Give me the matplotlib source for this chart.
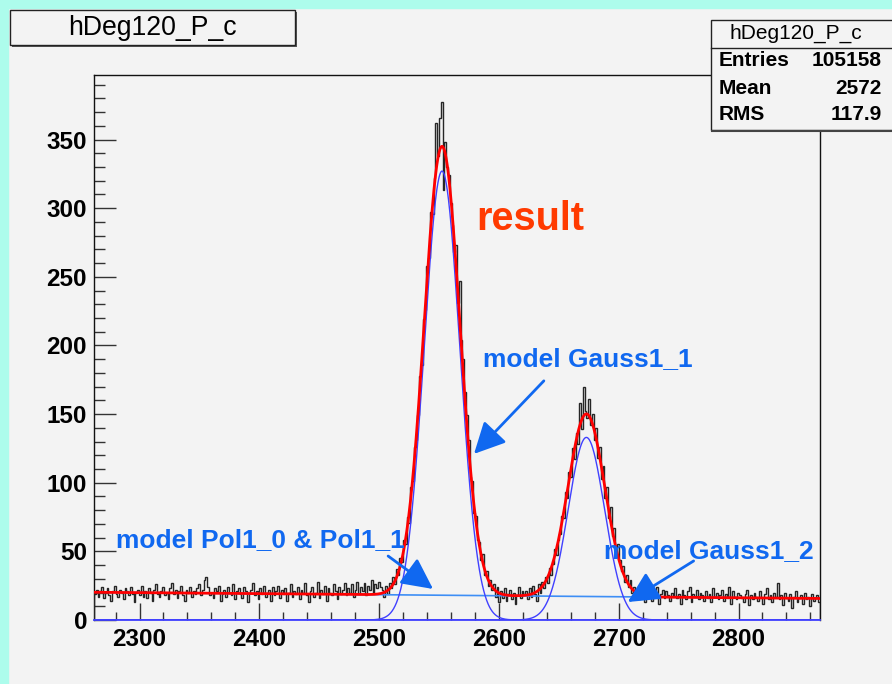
import numpy as np
import matplotlib
matplotlib.use("Agg")
import matplotlib.pyplot as plt
from matplotlib.patches import Rectangle
from matplotlib.ticker import MultipleLocator

# ---------------- data ----------------
x_min, x_max = 2262.0, 2868.0
bin_width = 1.5
counts = [
    19, 22, 17, 21, 24, 16, 20, 23, 18, 14, 21, 25, 19, 17, 22, 20, 15, 23, 21, 18,
    24, 19, 13, 20, 22, 18, 25, 17, 21, 16, 23, 20, 14, 22, 26, 19, 17, 21, 24, 18,
    20, 15, 23, 27, 19, 22, 16, 21, 25, 18, 14, 22, 20, 24, 17, 21, 19, 23, 26, 18,
    22, 29, 31, 24, 18, 20, 16, 23, 21, 25, 14, 19, 22, 17, 24, 20, 18, 26, 15, 21,
    23, 19, 16, 24, 21, 13, 20, 22, 27, 18, 21, 15, 23, 19, 25, 17, 20, 22, 14, 24,
    18, 21, 25, 16, 22, 19, 23, 14, 20, 26, 17, 21, 19, 24, 15, 22, 20, 27, 18, 13,
    21, 24, 17, 20, 28, 16, 22, 19, 25, 14, 23, 20, 18, 26, 21, 15, 24, 19, 22, 27,
    18, 23, 20, 26, 17, 22, 28, 19, 24, 21, 27, 18, 25, 22, 29, 20, 26, 23, 28, 24,
    22, 17, 25, 19, 27, 23, 31, 26, 37, 33, 45, 42, 58, 55, 75, 71, 97, 101, 126, 131,
    149, 178, 186, 219, 226, 258, 264, 297, 296, 322, 362, 338, 366, 377, 313, 348, 330, 324, 304, 288,
    268, 273, 231, 247, 204, 190, 166, 149, 131, 104, 101, 78, 76, 58, 57, 44, 48, 33, 36, 25,
    29, 22, 26, 17, 24, 13, 21, 16, 23, 14, 19, 22, 15, 20, 12, 18, 24, 16, 21, 19,
    21, 15, 23, 17, 25, 19, 14, 26, 20, 28, 23, 31, 27, 38, 33, 41, 52, 47, 58, 63,
    76, 74, 93, 89, 108, 104, 125, 117, 136, 128, 158, 139, 170, 152, 147, 161, 142, 150, 131, 140,
    118, 126, 103, 112, 89, 97, 74, 82, 61, 67, 48, 55, 44, 36, 39, 28, 33, 24, 29, 20,
    24, 17, 22, 15, 25, 19, 13, 21, 18, 23, 14, 20, 17, 24, 12, 19, 22, 16, 21, 18,
    14, 20, 17, 23, 16, 19, 12, 22, 18, 15, 21, 24, 13, 19, 17, 22, 15, 20, 18, 14,
    21, 16, 19, 13, 23, 17, 20, 15, 18, 22, 14, 19, 16, 24, 12, 21, 17, 15, 20, 18,
    16, 13, 19, 22, 11, 18, 15, 20, 17, 14, 21, 16, 12, 19, 23, 15, 18, 13, 20, 17,
    27, 15, 18, 11, 20, 16, 14, 19, 9, 17, 21, 13, 16, 18, 12, 20, 15, 17, 10, 19, 14, 16, 18, 13,
]

# fit model parameters (pol1 background + two gaussians)
pol1_p0, pol1_slope = 20.2, -0.00744      # value at x_min, slope per unit
g1_amp, g1_mean, g1_sigma = 327.0, 2552.5, 14.9
g2_amp, g2_mean, g2_sigma = 133.0, 2673.0, 15.2

hist_name = "hDeg120_P_c"
stats_rows = [("Entries", "105158"), ("Mean", "2572"), ("RMS", "117.9")]
x_ticks = [2300, 2400, 2500, 2600, 2700, 2800]
y_ticks = [0, 50, 100, 150, 200, 250, 300, 350]

# ---------------- figure ----------------
W, H = 892, 684
bg = "#f3f3f3"
fig = plt.figure(figsize=(W / 100, H / 100), dpi=100)
fig.patch.set_facecolor(bg)
cyan = "#adfcec"
fig.patches.append(Rectangle((0, 0), 8 / W, 1, transform=fig.transFigure, color=cyan, zorder=-5))
fig.patches.append(Rectangle((0, 1 - 8 / H), 1, 8 / H, transform=fig.transFigure, color=cyan, zorder=-5))

L, R, T, B = 94, 820, 75, 620
ax = fig.add_axes([L / W, 1 - B / H, (R - L) / W, (B - T) / H])
ax.set_facecolor(bg)

edges = x_min + bin_width * np.arange(len(counts) + 1)
ax.stairs(counts, edges, color="#262626", lw=1.0, zorder=3)

xs = np.linspace(x_min, x_max, 2000)
bkg = pol1_p0 + pol1_slope * (xs - x_min)
g1 = g1_amp * np.exp(-0.5 * ((xs - g1_mean) / g1_sigma) ** 2)
g2 = g2_amp * np.exp(-0.5 * ((xs - g2_mean) / g2_sigma) ** 2)

ax.plot(xs, bkg, color="#3d8ef5", lw=1.2, zorder=4)
ax.plot(xs, g1, color="#4040ff", lw=1.0, zorder=4)
ax.plot(xs, g2, color="#4040ff", lw=1.0, zorder=4)
ax.plot(xs, bkg + g1 + g2, color="#ff0000", lw=2.0, zorder=5)

ax.set_xlim(x_min, x_max)
ax.set_ylim(0, 397)

ax.set_xticks(x_ticks)
ax.set_yticks(y_ticks)
ax.xaxis.set_minor_locator(MultipleLocator(20))
ax.yaxis.set_minor_locator(MultipleLocator(10))
ax.tick_params(which="both", direction="in", top=False, right=False, color="#333333", width=1)
ax.tick_params(axis="x", which="major", length=12, pad=6)
ax.tick_params(axis="x", which="minor", length=6)
ax.tick_params(axis="y", which="major", length=16, pad=5)
ax.tick_params(axis="y", which="minor", length=8)
for lab in ax.get_xticklabels() + ax.get_yticklabels():
    lab.set_fontfamily("Liberation Sans")
    lab.set_fontweight("bold")
    lab.set_fontsize(17.5)
for s in ax.spines.values():
    s.set_color("#111111")
    s.set_linewidth(1.0)
ax.spines["bottom"].set_color("#4040ff")
ax.spines["bottom"].set_linewidth(1.3)

# annotations
blue = "#1068f0"
ax.text(2580.8, 284, "result", color="#ff3a00", fontsize=28.5, fontweight="bold",
        family="Liberation Sans", ha="left", va="baseline", zorder=6)
ax.text(2586.7, 185, "model Gauss1_1", color=blue, fontsize=19, fontweight="bold",
        family="Liberation Sans", ha="left", va="baseline", zorder=6)
ax.text(2280, 53, "model Pol1_0 & Pol1_1", color=blue, fontsize=19, fontweight="bold",
        family="Liberation Sans", ha="left", va="baseline", zorder=6)
ax.text(2687.5, 45, "model Gauss1_2", color=blue, fontsize=19, fontweight="bold",
        family="Liberation Sans", ha="left", va="baseline", zorder=6)

arrows = [((2637.5, 174.2), (2579.2, 121.0)),
          ((2507.5, 46.6), (2545.0, 22.6)),
          ((2762.5, 43.0), (2707.5, 13.1))]
for (x0, y0), (x1, y1) in arrows:
    ax.annotate("", xy=(x1, y1), xytext=(x0, y0),
                arrowprops=dict(arrowstyle="-|>,head_length=1.0,head_width=0.5",
                                mutation_scale=19, lw=2.0, color=blue,
                                shrinkA=0, shrinkB=0), zorder=7)

# title box with shadow
def fig_rect(x0, y0, x1, y1, **kw):
    r = Rectangle((x0 / W, 1 - y1 / H), (x1 - x0) / W, (y1 - y0) / H,
                  transform=fig.transFigure, **kw)
    fig.patches.append(r)
    return r

fig_rect(12, 12, 297, 47, facecolor="#555555", edgecolor="none", zorder=10)
fig_rect(10, 10, 295, 45, facecolor=bg, edgecolor="#222222", lw=1.0, zorder=11)
fig.text(152.5 / W, 1 - 28 / H, hist_name, ha="center", va="center", fontsize=19.2,
         family="Liberation Sans", zorder=12)

# stats box
fig_rect(711, 20, 893, 130, facecolor=bg, edgecolor="#222222", lw=1.0, zorder=10)
fig.lines.append(plt.Line2D([711 / W, 1], [1 - 47.5 / H] * 2, transform=fig.transFigure,
                            color="#222222", lw=1.0, zorder=11))
fig.lines.append(plt.Line2D([712 / W, 1], [1 - 131 / H] * 2, transform=fig.transFigure,
                            color="#444444", lw=1.5, zorder=11))
fig.text(796 / W, 1 - 33 / H, hist_name, ha="center", va="center", fontsize=15,
         family="Liberation Sans", zorder=12)
row_y = [61, 88, 115]
for (k, v), yy in zip(stats_rows, row_y):
    fig.text(719 / W, 1 - yy / H, k, ha="left", va="center", fontsize=15,
             fontweight="bold", family="Liberation Sans", zorder=12)
    fig.text(882 / W, 1 - yy / H, v, ha="right", va="center", fontsize=15,
             fontweight="bold", family="Liberation Sans", zorder=12)

fig.savefig("out.png", dpi=100, facecolor=fig.get_facecolor())
